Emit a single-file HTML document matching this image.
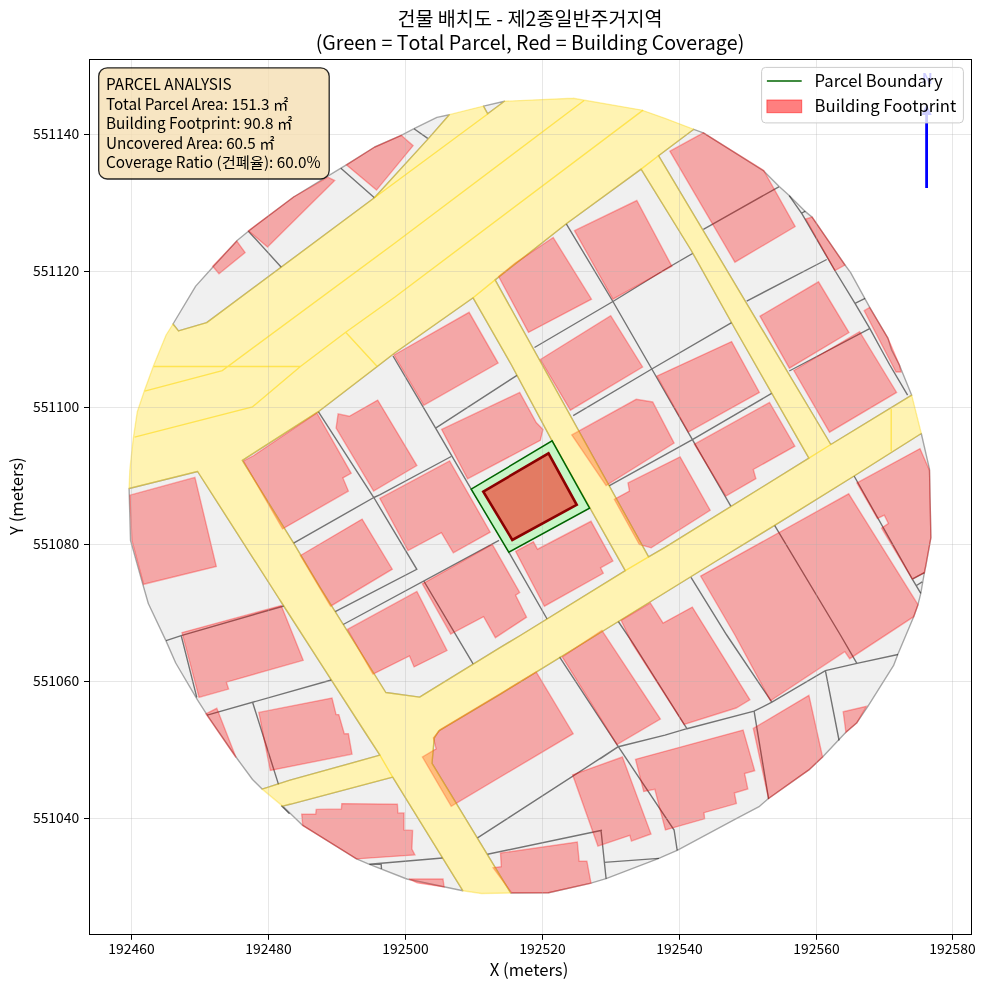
<!DOCTYPE html>
<html><head><meta charset="utf-8"><style>
html,body{margin:0;padding:0;background:#fff;width:985px;height:990px;overflow:hidden}
svg{display:block;font-family:"Noto Sans CJK KR", "Liberation Sans", sans-serif}
</style></head><body>
<svg width="985" height="990" viewBox="0 0 985 990">
<rect width="985" height="990" fill="#fff"/>
<defs><clipPath id="ax"><rect x="89.5" y="59.5" width="882.0" height="875.0"/></clipPath></defs>
<g clip-path="url(#ax)">
<path d="M129.1,488.5 L129.9,469.3 L133.2,439.1 L137.3,411.7 L144.2,391.2 L153.8,365.1 L166.1,335 L173,324 L195.7,286.1 L212.7,267.2 L237.4,240.3 L248.4,231.2 L293.6,197 L340.9,168.2 L346.4,164.9 L374.7,147 L401.2,135.3 L414,128.7 L436.9,117.4 L449.3,114.7 L483.5,106.1 L504.5,101.3 L520,100.6 L573.2,98.3 L641.7,110.1 L665,118.3 L693.8,129.3 L703.4,132.8 L763.7,170.9 L779.2,186.4 L789.2,195.6 L804.8,211.1 L812.1,217.1 L845,265 L850.5,272.3 L869.6,307.1 L887.9,338.1 L891.6,350 L899.4,365 L911.7,395.2 L921.3,433.5 L929.5,469.2 L930.9,537.7 L926,565 L924.4,572.7 L920.8,593.3 L918,604.7 L913.7,616.7 L898.1,653.7 L893.8,665.1 L867.9,706.3 L856.9,722.7 L845.9,732.3 L822.6,757 L808.9,769.9 L800,776.1 L768.5,798.5 L759.6,806.3 L736.3,818.7 L677.2,850.3 L665,855.7 L658.9,858.4 L606.1,878.7 L591,883.1 L548.5,892.7 L510.7,893 L481.5,893.5 L462.8,890.7 L406.8,879 L369.4,864.3 L356.5,858.9 L301.7,824.6 L282.6,806.1 L262.1,789.1 L252.5,779.5 L237.4,759 L207.2,715.1 L197.6,700.1 L175.7,663 L166.1,641.1 L148.3,603.5 L142.8,584.3 L130.5,540.4 L129.1,489.7Z" fill="#f0f0f0" stroke="none"/>
<path d="M129.1,488.5 L129.9,469.3 L133.2,439.1 L137.3,411.7 L144.2,391.2 L153.8,365.1 L166.1,335 L173,324 L178.5,330.9 L206.7,322.6 L374.4,197.8 L428.6,138.4 L449.3,114.7 L483.5,106.1 L487.7,113.8 L504.5,101.3 L520,100.6 L573.2,98.3 L641.7,110.1 L665,118.3 L693.8,129.3 L658.5,155.7 L641.1,169.1 L566.3,223.8 L495.1,279.9 L473.1,297.8 L395,352.7 L377.2,366.5 L318.3,411.7 L242.3,460.4 L197.6,471.5ZM197.6,471.5 L242.3,460.4 L293.6,543.2 L320,587.4 L385.8,692.5 L419.6,697.1 L500,647.7 L521.1,635 L625.3,570.6 L648.6,556.9 L665,547.3 L808.9,458.2 L830.8,444.5 L911.7,395.2 L921.3,433.5 L854.1,476 L774.6,525.4 L717.9,560 L596.5,635 L500,694.3 L438.8,730.9 L434.2,738.2 L432,763.3 L510.7,893 L481.5,893.5 L462.8,890.7 L392.7,777.2 L379.9,755.2 L363.6,730 L320,662.3 L279.9,600ZM379.9,755.2 L290,780.2 L262.1,789.1 L282.6,806.1 L290,804.3 L392.7,777.2ZM473.1,297.8 L495.1,279.9 L648.6,556.9 L625.3,570.6 L552.1,440.9 L511.5,365ZM641.1,169.1 L658.5,155.7 L830.8,444.5 L808.9,458.2 L735.7,330 L691,250Z" fill="#fff" stroke="none"/>
<path d="M173,324 L195.7,286.1M212.7,267.2 L195.7,286.1M212.7,267.2 L237.4,240.3M237.4,240.3 L248.4,231.2M293.6,197 L248.4,231.2M293.6,197 L340.9,168.2M346.4,164.9 L340.9,168.2M346.4,164.9 L374.7,147M401.2,135.3 L374.7,147M414,128.7 L401.2,135.3M414,128.7 L436.9,117.4M449.3,114.7 L436.9,117.4M483.5,106.1 L504.5,101.3M703.4,132.8 L693.8,129.3M703.4,132.8 L763.7,170.9M779.2,186.4 L763.7,170.9M779.2,186.4 L789.2,195.6M804.8,211.1 L789.2,195.6M812.1,217.1 L804.8,211.1M845,265 L812.1,217.1M845,265 L850.5,272.3M869.6,307.1 L850.5,272.3M869.6,307.1 L887.9,338.1M887.9,338.1 L891.6,350M899.4,365 L891.6,350M899.4,365 L911.7,395.2M921.3,433.5 L929.5,469.2M930.9,537.7 L929.5,469.2M930.9,537.7 L926,565M924.4,572.7 L926,565M924.4,572.7 L920.8,593.3M920.8,593.3 L918,604.7M913.7,616.7 L918,604.7M913.7,616.7 L898.1,653.7M898.1,653.7 L893.8,665.1M867.9,706.3 L893.8,665.1M867.9,706.3 L856.9,722.7M856.9,722.7 L845.9,732.3M822.6,757 L845.9,732.3M822.6,757 L808.9,769.9M800,776.1 L808.9,769.9M800,776.1 L768.5,798.5M759.6,806.3 L768.5,798.5M759.6,806.3 L736.3,818.7M677.2,850.3 L736.3,818.7M677.2,850.3 L665,855.7M665,855.7 L658.9,858.4M658.9,858.4 L606.1,878.7M591,883.1 L606.1,878.7M591,883.1 L548.5,892.7M548.5,892.7 L510.7,893M406.8,879 L462.8,890.7M406.8,879 L369.4,864.3M356.5,858.9 L369.4,864.3M356.5,858.9 L301.7,824.6M301.7,824.6 L282.6,806.1M262.1,789.1 L252.5,779.5M252.5,779.5 L237.4,759M207.2,715.1 L237.4,759M207.2,715.1 L197.6,700.1M175.7,663 L197.6,700.1M175.7,663 L166.1,641.1M166.1,641.1 L148.3,603.5M142.8,584.3 L148.3,603.5M142.8,584.3 L130.5,540.4M129.1,489.7 L130.5,540.4M129.1,488.5 L129.1,489.7M173,324 L178.5,330.9M206.7,322.6 L178.5,330.9M206.7,322.6 L374.4,197.8M428.6,138.4 L374.4,197.8M449.3,114.7 L428.6,138.4M487.7,113.8 L483.5,106.1M487.7,113.8 L504.5,101.3M693.8,129.3 L658.5,155.7M641.1,169.1 L566.3,223.8M495.1,279.9 L566.3,223.8M473.1,297.8 L395,352.7M377.2,366.5 L395,352.7M318.3,411.7 L377.2,366.5M242.3,460.4 L318.3,411.7M129.1,488.5 L197.6,471.5M242.3,460.4 L293.6,543.2M293.6,543.2 L320,587.4M385.8,692.5 L320,587.4M385.8,692.5 L419.6,697.1M500,647.7 L419.6,697.1M521.1,635 L500,647.7M521.1,635 L625.3,570.6M665,547.3 L648.6,556.9M665,547.3 L808.9,458.2M911.7,395.2 L830.8,444.5M921.3,433.5 L854.1,476M854.1,476 L774.6,525.4M717.9,560 L774.6,525.4M717.9,560 L596.5,635M500,694.3 L596.5,635M500,694.3 L438.8,730.9M434.2,738.2 L438.8,730.9M434.2,738.2 L432,763.3M432,763.3 L510.7,893M462.8,890.7 L392.7,777.2M363.6,730 L379.9,755.2M320,662.3 L363.6,730M320,662.3 L279.9,600M279.9,600 L197.6,471.5M290,780.2 L379.9,755.2M262.1,789.1 L290,780.2M290,804.3 L282.6,806.1M290,804.3 L392.7,777.2M495.1,279.9 L648.6,556.9M625.3,570.6 L552.1,440.9M511.5,365 L552.1,440.9M511.5,365 L473.1,297.8M830.8,444.5 L658.5,155.7M735.7,330 L808.9,458.2M735.7,330 L691,250M641.1,169.1 L691,250" fill="none" stroke="#000" stroke-opacity="0.33" stroke-width="1.39" stroke-linecap="round"/>
<path d="M248.4,231.2 L281.3,267.2M340.9,168.2 L374.4,197.8M414,128.7 L427.7,138.4M566.3,223.8 L612.9,301.5 L651.8,369 L692.4,439.7 L730.8,506.2M534.5,347.5 L612.9,301.5 L665,269.5 L692.6,253.5M573.2,415.7 L651.8,369 L731.6,322.7M609,485.8 L692.4,439.7 L771.6,393.4M789.2,195.6 L802,213.9 L834.9,270.5 L855,303.4 L869.6,328.1 L881.5,350 L889.8,365 L907.6,395.2M801.1,213.5 L805.3,211.1M855,303.4 L865.1,298.3M703.4,229.3 L778.8,186.8M746.7,301.1 L826.7,259.5M789.3,371 L869.6,328.6M854.1,476 L912.3,579.1 L920.8,593.3M912.3,579.1 L924.4,572.7M916.5,585.5 L922.2,581.9M774.6,525.4 L840.4,635 L856.9,663.4M665,735.1 L686.9,728.7 L754.1,711.2 L771.9,702.2 L825.4,670.6 L856.9,663.4 L898,654.5M691,577.4 L726.7,635 L771.9,702.2M825.4,670.6 L839.1,740.5M754.1,711.2 L768.6,798.9M618.3,621.5 L632.9,643.2 L686.9,728.7M600,758.9 L618.3,746.7 L665,735.1M559.5,656.9 L618.3,746.7 L674.1,830 L677.2,850.3M477.5,837.9 L618.3,746.7M604.1,862.4 L658.9,858.4M601,830 L606.1,878.7M369.4,864.3 L442.6,858M487.5,854.3 L602,830.2M381.1,863.1 L381.5,868.9M318.3,411.7 L373.8,497.5 L416.8,569.3 L335.2,611.7M373.8,497.5 L380.2,494.7 L451.2,456.5M293.6,543.2 L373.8,497.5M393,356 L435.6,428.1 L471.2,489.2M435.6,428.1 L517,375.3M343.2,624.5 L499,540.4M424.1,581.5 L473.1,663.8M508.8,552.2 L547.1,619M166.1,640.6 L181.2,635.6 L283.8,606M181.2,635.6 L196.8,697.3M207.2,715.1 L331.3,680M252.5,702 L278.5,784.4M281.2,805.6 L289.5,813.8" fill="none" stroke="#000" stroke-opacity="0.52" stroke-width="1.4"/>
<g fill="#ff0000" fill-opacity="0.3" stroke="#ff0000" stroke-opacity="0.3" stroke-width="1.39"><polygon points="212.7,266.3 236.8,241.1 245.1,252.6 219,273.7"/><polygon points="248.4,230.7 293.6,197 327.9,177.2 334.7,180.5 267.5,247.1"/><polygon points="346.4,164.9 374.7,147 401.2,135.3 413.1,145.7 376.5,190.1"/><polygon points="498.6,276.5 515.6,262.8 553.2,237.5 591.5,299.2 528.5,332.4"/><polygon points="574.5,230.7 636.8,200.5 671.9,266.3 612.9,299.2"/><polygon points="540.3,359.5 610.7,315.7 642.6,367 570.4,410.2"/><polygon points="669.9,151.2 703.4,132.8 763.7,170.4 795.2,226.6 734.9,262.2"/><polygon points="805.7,219 812.1,217.1 845,265 834.9,270.5"/><polygon points="760,316.2 818.5,281.8 849,332.6 789.4,368.2"/><polygon points="864.2,310.7 869.6,307.4 887.9,338.1 899.4,365 901,372 896,372"/><polygon points="793.8,370.5 859.6,331.7 896.6,392.4 829.5,432.2"/><polygon points="656.9,376.1 731.6,341.6 759.4,392.4 688.3,432"/><polygon points="571.8,434.9 636.2,399.3 652.7,402 674.1,443.1 606.1,485.6"/><polygon points="694.4,444.2 769.5,402.5 794.9,446.2 753.3,469.5 755.9,478.7 725.9,496"/><polygon points="614.3,499.3 629.4,491.1 628,482.9 680.1,456.8 710.2,510.3 651.2,547.8 639.3,544.5"/><polygon points="856.9,482.9 920,448.6 929.5,470.5 930.9,537.7 924.4,572.7 912.3,579.1 881.6,528.1 888.4,523.4 884.3,515.2 877.4,518.5"/><polygon points="700.6,576.1 848.7,493.8 918,604.7 913.7,616.7 849.7,658.7 844.8,651.6 770.5,700.8 734.9,635"/><polygon points="621.1,620.3 650.3,603 663.1,623 692.3,607.1 749.9,699.8 736.2,708 684.1,724.5 632,643.2"/><polygon points="562.2,656.9 601.9,630.4 660.4,719 617,744.6"/><polygon points="440.2,729.6 536.2,672 573.2,733.7 451.2,806.3 422.4,757 436.1,748.8 433.4,737.8"/><polygon points="500.5,853 577.3,842 579.2,861.2 586.9,861.2 591,883.1 548.5,892.7 511.5,892.7 493.1,867.8 501.3,866.6"/><polygon points="572.6,774.8 622.4,757 651,834 631.4,841.1 629.8,835.4 597.9,846.1"/><polygon points="635.5,759.3 743.1,730.1 754.7,770.7 744.6,773.5 747.8,788.9 734.4,793 736.4,803.6 704,812.7 704.6,818.8 665.4,830 654.8,789.3 643.7,791.4"/><polygon points="753.3,728.4 808.9,695.3 822.6,757 808.9,769.9 768.5,798.5"/><polygon points="843.2,711.8 866.5,706.3 856.9,722.7 845.9,732.3"/><polygon points="243.4,461 253.8,455.5 316.9,413 351.2,473.3 342.9,477.9 348.4,491.1 282.6,528.9"/><polygon points="336.1,428 338.1,413.9 349.3,416.3 377.7,400.1 416.9,465.6 373.6,491"/><polygon points="394,355 469.1,312.3 498.1,363.1 423.8,405.3"/><polygon points="441.6,429.4 519.7,392.4 536.2,422.6 543,429.4 540.3,440.4 467.6,478.8"/><polygon points="379.8,498.4 449.6,460.9 490.2,532.2 453.3,552.8 441.4,532.7 408,550.5"/><polygon points="300.4,555.5 362.1,519.1 392.3,569.2 330.6,606.2"/><polygon points="515.6,551.4 533.4,541.8 537.5,549.2 591,521.3 612.9,561 600.6,567.8 603.3,573.3 544.4,606.2"/><polygon points="422.3,583.8 492.3,544.5 519.7,592.5 515.6,595.3 526.6,617.2 495.4,637.7 483.6,616.7 450.7,634"/><polygon points="347.4,629.4 416.9,591.4 447,650.5 414.1,666.9 409.5,656 373,674.2"/><polygon points="129.9,495.2 194.9,477.4 216.3,566.5 143.6,584.3 131.9,540.4"/><polygon points="182,632.6 281.2,605.6 303.2,660.3 226.4,682.2 228.6,689.1 199,697.3"/><polygon points="205.9,713.8 216.8,708.3 236,757.6"/><polygon points="258.8,712.4 332,698.1 336.1,714.6 338.8,714.6 344.3,733.8 348.4,733.8 352,754.1 270.3,770.5"/><polygon points="301.7,814.1 315.7,814.1 316.2,809.4 341.4,808.9 341.8,803.6 397.4,804.3 397.9,812.9 404,812.9 404,829.9 412.6,830.4 411.9,849.1 414.9,854.9 356.5,858.9 302.8,825.7"/><polygon points="409.1,879 443,879 444.1,886.9 417.3,882.9"/></g>
<path d="M129.1,488.5 L129.9,469.3 L133.2,439.1 L137.3,411.7 L144.2,391.2 L153.8,365.1 L166.1,335 L173,324 L178.5,330.9 L206.7,322.6 L374.4,197.8 L428.6,138.4 L449.3,114.7 L483.5,106.1 L487.7,113.8 L504.5,101.3 L520,100.6 L573.2,98.3 L641.7,110.1 L665,118.3 L693.8,129.3 L658.5,155.7 L641.1,169.1 L566.3,223.8 L495.1,279.9 L473.1,297.8 L395,352.7 L377.2,366.5 L318.3,411.7 L242.3,460.4 L197.6,471.5ZM197.6,471.5 L242.3,460.4 L293.6,543.2 L320,587.4 L385.8,692.5 L419.6,697.1 L500,647.7 L521.1,635 L625.3,570.6 L648.6,556.9 L665,547.3 L808.9,458.2 L830.8,444.5 L911.7,395.2 L921.3,433.5 L854.1,476 L774.6,525.4 L717.9,560 L596.5,635 L500,694.3 L438.8,730.9 L434.2,738.2 L432,763.3 L510.7,893 L481.5,893.5 L462.8,890.7 L392.7,777.2 L379.9,755.2 L363.6,730 L320,662.3 L279.9,600ZM379.9,755.2 L290,780.2 L262.1,789.1 L282.6,806.1 L290,804.3 L392.7,777.2ZM473.1,297.8 L495.1,279.9 L648.6,556.9 L625.3,570.6 L552.1,440.9 L511.5,365ZM641.1,169.1 L658.5,155.7 L830.8,444.5 L808.9,458.2 L735.7,330 L691,250Z" fill="#ffd700" fill-opacity="0.3" stroke="none"/>
<path d="M129.1,488.5 L129.9,469.3M133.2,439.1 L129.9,469.3M137.3,411.7 L133.2,439.1M144.2,391.2 L137.3,411.7M144.2,391.2 L153.8,365.1M166.1,335 L153.8,365.1M166.1,335 L173,324M173,324 L178.5,330.9M206.7,322.6 L178.5,330.9M206.7,322.6 L374.4,197.8M428.6,138.4 L374.4,197.8M449.3,114.7 L428.6,138.4M449.3,114.7 L483.5,106.1M487.7,113.8 L483.5,106.1M487.7,113.8 L504.5,101.3M504.5,101.3 L520,100.6M573.2,98.3 L520,100.6M573.2,98.3 L641.7,110.1M641.7,110.1 L665,118.3M665,118.3 L693.8,129.3M693.8,129.3 L658.5,155.7M641.1,169.1 L566.3,223.8M495.1,279.9 L566.3,223.8M473.1,297.8 L395,352.7M377.2,366.5 L395,352.7M318.3,411.7 L377.2,366.5M242.3,460.4 L318.3,411.7M129.1,488.5 L197.6,471.5M242.3,460.4 L293.6,543.2M293.6,543.2 L320,587.4M385.8,692.5 L320,587.4M385.8,692.5 L419.6,697.1M500,647.7 L419.6,697.1M521.1,635 L500,647.7M521.1,635 L625.3,570.6M665,547.3 L648.6,556.9M665,547.3 L808.9,458.2M911.7,395.2 L830.8,444.5M921.3,433.5 L911.7,395.2M921.3,433.5 L854.1,476M854.1,476 L774.6,525.4M717.9,560 L774.6,525.4M717.9,560 L596.5,635M500,694.3 L596.5,635M500,694.3 L438.8,730.9M434.2,738.2 L438.8,730.9M434.2,738.2 L432,763.3M432,763.3 L510.7,893M510.7,893 L481.5,893.5M462.8,890.7 L481.5,893.5M462.8,890.7 L392.7,777.2M363.6,730 L379.9,755.2M320,662.3 L363.6,730M320,662.3 L279.9,600M279.9,600 L197.6,471.5M290,780.2 L379.9,755.2M262.1,789.1 L290,780.2M262.1,789.1 L282.6,806.1M290,804.3 L282.6,806.1M290,804.3 L392.7,777.2M495.1,279.9 L648.6,556.9M625.3,570.6 L552.1,440.9M511.5,365 L552.1,440.9M511.5,365 L473.1,297.8M830.8,444.5 L658.5,155.7M735.7,330 L808.9,458.2M735.7,330 L691,250M641.1,169.1 L691,250" fill="none" stroke="#ffd700" stroke-opacity="0.35" stroke-width="1.39" stroke-linecap="round"/>
<path d="M374.4,197.8 L488,113.8M584.1,100.5 L395,243 L222.3,370.6 L144.7,391.2M643.1,110.1 L395,297 L345.7,332.2 L300.4,366.5 L252.5,406.8 L134.6,437.2M153.8,366.5 L300.4,366.5M345.7,332.2 L377.2,366.5M625.3,570.6 L648.6,556.9M473.1,297.8 L495.1,279.9M641.1,169.1 L658.5,155.7M808.9,458.2 L830.8,444.5M891.2,408.9 L891.2,451.3M379.9,755.2 L392.7,777.2" fill="none" stroke="#ffd700" stroke-opacity="0.55" stroke-width="1.39"/>
<polygon points="471.2,489.2 552.1,440.9 589.6,508.1 508.8,552.2" fill="#fff" stroke="none"/>
<polygon points="471.2,489.2 552.1,440.9 589.6,508.1 508.8,552.2" fill="#90ee90" fill-opacity="0.5" stroke="none"/>
<polygon points="483.3,491.6 548.5,453.3 576.7,504.8 512.3,539.9" fill="#ff0000" fill-opacity="0.5" stroke="none"/>
</g>
<g stroke="#b0b0b0" stroke-opacity="0.3" stroke-width="1"><line x1="131.5" y1="59.5" x2="131.5" y2="934.5"/><line x1="268.5" y1="59.5" x2="268.5" y2="934.5"/><line x1="405.5" y1="59.5" x2="405.5" y2="934.5"/><line x1="542.5" y1="59.5" x2="542.5" y2="934.5"/><line x1="679.5" y1="59.5" x2="679.5" y2="934.5"/><line x1="816.5" y1="59.5" x2="816.5" y2="934.5"/><line x1="952.5" y1="59.5" x2="952.5" y2="934.5"/><line x1="89.5" y1="818.5" x2="971.5" y2="818.5"/><line x1="89.5" y1="681.5" x2="971.5" y2="681.5"/><line x1="89.5" y1="544.5" x2="971.5" y2="544.5"/><line x1="89.5" y1="407.5" x2="971.5" y2="407.5"/><line x1="89.5" y1="271.5" x2="971.5" y2="271.5"/><line x1="89.5" y1="134.5" x2="971.5" y2="134.5"/></g>
<g clip-path="url(#ax)">
<polygon points="471.2,489.2 552.1,440.9 589.6,508.1 508.8,552.2" fill="none" stroke="#006400" stroke-width="1.5"/>
<polygon points="483.3,491.6 548.5,453.3 576.7,504.8 512.3,539.9" fill="none" stroke="#8b0000" stroke-width="2.6"/>
</g>
<rect x="89.5" y="59.5" width="882.0" height="875.0" fill="none" stroke="#000" stroke-width="1.0"/>
<g stroke="#000" stroke-width="1"><line x1="131.5" y1="934.5" x2="131.5" y2="939.8"/><line x1="268.5" y1="934.5" x2="268.5" y2="939.8"/><line x1="405.5" y1="934.5" x2="405.5" y2="939.8"/><line x1="542.5" y1="934.5" x2="542.5" y2="939.8"/><line x1="679.5" y1="934.5" x2="679.5" y2="939.8"/><line x1="816.5" y1="934.5" x2="816.5" y2="939.8"/><line x1="952.5" y1="934.5" x2="952.5" y2="939.8"/><line x1="89.5" y1="818.5" x2="84.0" y2="818.5"/><line x1="89.5" y1="681.5" x2="84.0" y2="681.5"/><line x1="89.5" y1="544.5" x2="84.0" y2="544.5"/><line x1="89.5" y1="407.5" x2="84.0" y2="407.5"/><line x1="89.5" y1="271.5" x2="84.0" y2="271.5"/><line x1="89.5" y1="134.5" x2="84.0" y2="134.5"/></g>
<g font-size="13.9" fill="#000"><text x="131.5" y="954.3" text-anchor="middle">192460</text><text x="268.5" y="954.3" text-anchor="middle">192480</text><text x="405.5" y="954.3" text-anchor="middle">192500</text><text x="542.5" y="954.3" text-anchor="middle">192520</text><text x="679.5" y="954.3" text-anchor="middle">192540</text><text x="816.5" y="954.3" text-anchor="middle">192560</text><text x="952.5" y="954.3" text-anchor="middle">192580</text><text x="79.2" y="823.1" text-anchor="end">551040</text><text x="79.2" y="686.1" text-anchor="end">551060</text><text x="79.2" y="549.1" text-anchor="end">551080</text><text x="79.2" y="412.1" text-anchor="end">551100</text><text x="79.2" y="276.1" text-anchor="end">551120</text><text x="79.2" y="139.1" text-anchor="end">551140</text></g>
<text x="529" y="975.7" text-anchor="middle" font-size="16.7">X (meters)</text>
<text transform="translate(22.5,496) rotate(-90)" text-anchor="middle" font-size="16.7">Y (meters)</text>
<text x="530" y="26" text-anchor="middle" font-size="19.6" style="font-kerning:none">건물 배치도 - 제2종일반주거지역</text>
<text x="530" y="50" text-anchor="middle" font-size="19.6" style="font-kerning:none">(Green = Total Parcel, Red = Building Coverage)</text>
<!-- north arrow -->
<line x1="926.6" y1="188" x2="926.6" y2="112" stroke="#0000ff" stroke-width="2.8"/>
<path d="M926.6,104 L921.5,115 L931.7,115 Z" fill="#0000ff"/>
<text x="927.2" y="83.5" text-anchor="middle" font-size="14.2" font-weight="bold" fill="#0000ff">N</text>
<!-- legend -->
<rect x="761.6" y="67.4" width="201.8" height="55.5" rx="4" fill="#fff" fill-opacity="0.8" stroke="#cccccc" stroke-width="1"/>
<line x1="766.9" y1="81" x2="801.7" y2="81" stroke="#006400" stroke-width="1.5"/>
<rect x="766.9" y="100" width="34.8" height="12.7" fill="#ff0000" fill-opacity="0.5" stroke="#ff0000" stroke-opacity="0.5"/>
<text x="814.6" y="86.8" font-size="16.7">Parcel Boundary</text>
<text x="814.6" y="111.7" font-size="16.7">Building Footprint</text>
<!-- info box -->
<rect x="98.7" y="67.8" width="230.5" height="111.2" rx="8.5" fill="#f5deb3" fill-opacity="0.8" stroke="#000" stroke-opacity="0.85" stroke-width="1.3"/>
<g font-size="15.3">
<text x="106" y="90">PARCEL ANALYSIS</text>
<text x="106" y="109.5">Total Parcel Area: 151.3 ㎡</text>
<text x="106" y="129">Building Footprint: 90.8 ㎡</text>
<text x="106" y="148.5">Uncovered Area: 60.5 ㎡</text>
<text x="106" y="168">Coverage Ratio (건폐율): 60.0%</text>
</g>
</svg>
</body></html>
